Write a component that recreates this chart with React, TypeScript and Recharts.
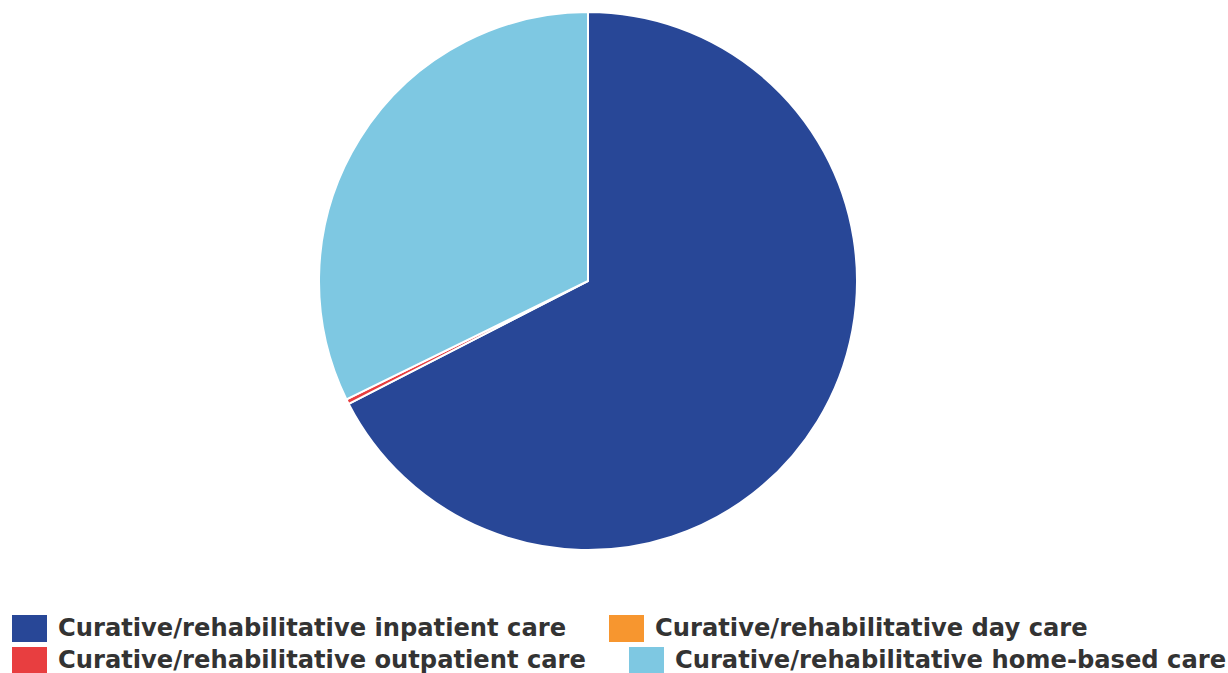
import React from "react";
import { PieChart, Pie, Cell, Legend } from "recharts";

const categories = [
  "Curative/rehabilitative inpatient care",
  "Curative/rehabilitative day care",
  "Curative/rehabilitative outpatient care",
  "Curative/rehabilitative home-based care",
];
const values = [67.45, 0, 0.3, 32.25];
const colors = ["#284797", "#F7962F", "#E83E40", "#7EC8E2"];

const data = categories.map((name, i) => ({ name, value: values[i] }));

const renderLegend = () => {
  const items = categories.map((name, i) => ({ name, color: colors[i] }));
  const rows = [items.slice(0, 2), items.slice(2, 4)];
  return (
    <div style={{ paddingLeft: 12, fontFamily: "'DejaVu Sans', sans-serif", fontWeight: "bold", fontSize: 24.2, color: "#333333", width: 1216 }}>
      {rows.map((row, ri) => (
        <div key={ri} style={{ display: "flex", whiteSpace: "nowrap", height: 32, alignItems: "flex-start" }}>
          {row.map((entry, i) => (
            <div key={i} style={{ display: "flex", flex: "none", alignItems: "center", marginRight: i === 0 ? 43 : 0 }}>
              <span style={{ display: "inline-block", width: 35, height: 27, background: entry.color, marginRight: 11, flex: "none" }} />
              <span style={{ lineHeight: "27px", flex: "none" }}>{entry.name}</span>
            </div>
          ))}
        </div>
      ))}
    </div>
  );
};

export default function App() {
  return (
    <div style={{ width: 1228, height: 673, background: "#fff", overflow: "hidden" }}>
      <style>{"html, body { margin: 0; padding: 0; overflow: hidden; }"}</style>
      <PieChart width={1228} height={673} margin={{ top: 0, right: 0, bottom: 0, left: 0 }} style={{ overflow: "visible" }}>
        <Pie
          data={data}
          dataKey="value"
          nameKey="name"
          cx={588}
          cy={281}
          outerRadius={269}
          startAngle={90}
          endAngle={-270}
          stroke="#ffffff"
          strokeWidth={2}
          isAnimationActive={false}
          legendType="square"
        >
          {data.map((d, i) => (
            <Cell key={d.name} fill={colors[i]} />
          ))}
        </Pie>
        <Legend
          content={renderLegend}
          wrapperStyle={{ position: "absolute", top: 615, left: 0, width: 1228, height: 64, overflow: "visible" }}
        />
      </PieChart>
    </div>
  );
}
